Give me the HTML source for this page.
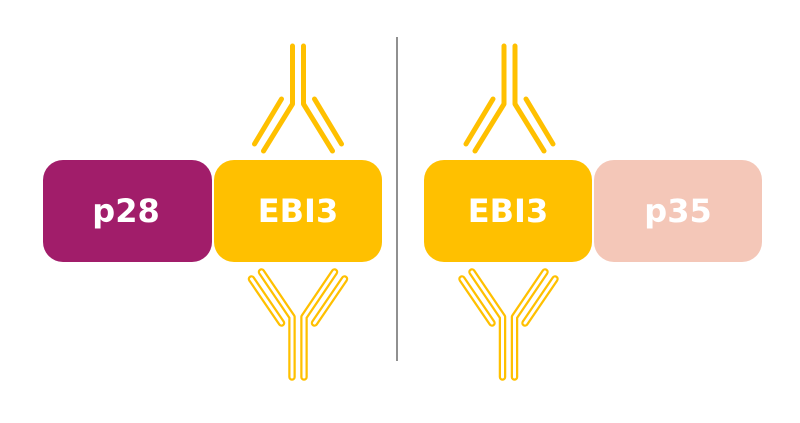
<!DOCTYPE html>
<html><head><style>
body{margin:0;background:#fff;width:800px;height:418px;overflow:hidden;font-family:"Liberation Sans",sans-serif}
</style></head><body>
<svg width="800" height="418" viewBox="0 0 800 418" xmlns="http://www.w3.org/2000/svg">
<defs>
<g id="top" fill="none" stroke="#FFC000" stroke-width="5" stroke-linecap="round" stroke-linejoin="round">
<polyline points="-5.5,0 -5.5,58 -34.5,105"/>
<polyline points="5.5,0 5.5,58 34.5,105"/>
<line x1="-16.5" y1="53" x2="-43.5" y2="98"/>
<line x1="16.5" y1="53" x2="43.5" y2="98"/>
</g>
<g id="botbase" fill="none" stroke-linecap="round" stroke-linejoin="round">
<polyline points="-6,105 -6,45 -36.5,0"/>
<polyline points="6,105 6,45 36.5,0"/>
<line x1="-46.5" y1="7" x2="-16.5" y2="51"/>
<line x1="46.5" y1="7" x2="16.5" y2="51"/>
</g>
<g id="bot">
<use href="#botbase" stroke="#FFC000" stroke-width="7.5"/>
<use href="#botbase" stroke="#fff" stroke-width="3"/>
</g>
</defs>
<line x1="397" y1="37" x2="397" y2="361" stroke="#555" stroke-width="1.3"/>
<rect x="43" y="160" width="169" height="102" rx="20" fill="#A11D6A"/>
<rect x="214" y="160" width="168" height="102" rx="20" fill="#FFC000"/>
<rect x="424" y="160" width="168" height="102" rx="20" fill="#FFC000"/>
<rect x="594" y="160" width="168" height="102" rx="20" fill="#F4C7B8"/>
<g font-family="DejaVu Sans, sans-serif" font-weight="bold" font-size="32" fill="#fff" text-anchor="middle">
<text x="126" y="222">p28</text>
<text x="298" y="222">EBI3</text>
<text x="508" y="222">EBI3</text>
<text x="678" y="222">p35</text>
</g>
<use href="#top" x="298" y="46"/>
<use href="#top" x="509.5" y="46"/>
<use href="#bot" x="298" y="272"/>
<use href="#bot" x="508.5" y="272"/>
</svg>
</body></html>
